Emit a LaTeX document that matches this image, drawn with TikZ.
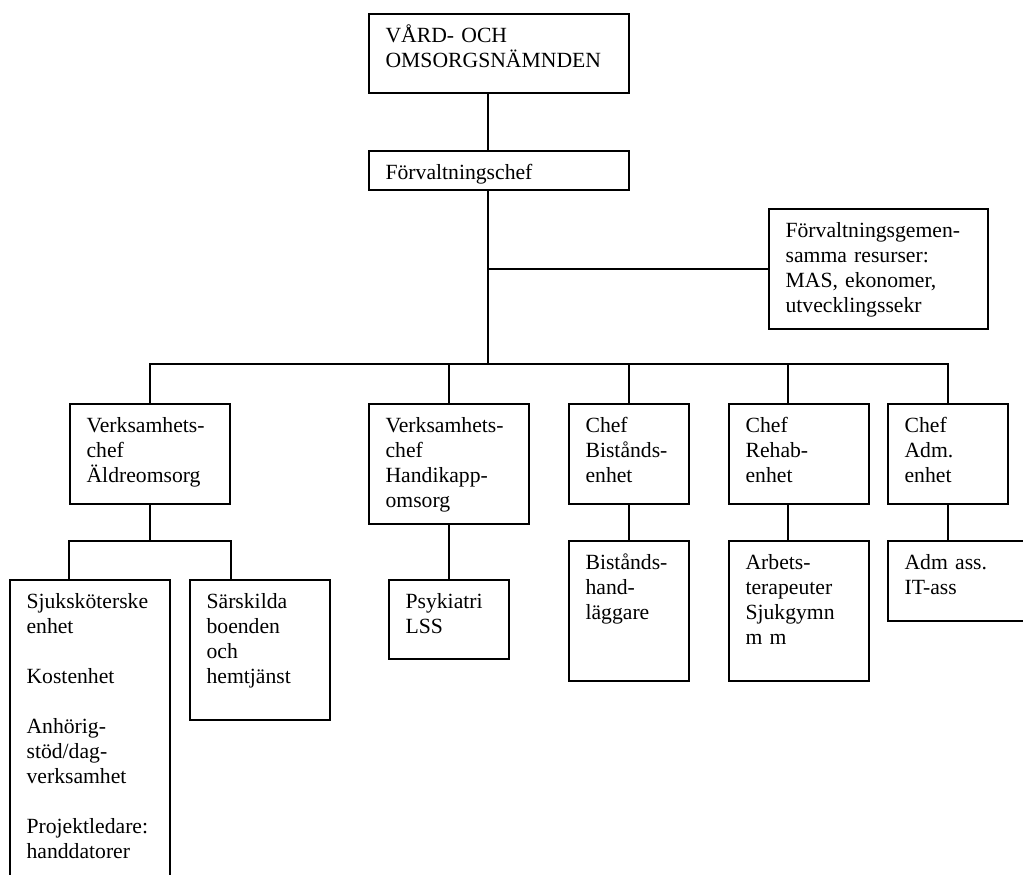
\documentclass[tikz,border=0pt]{standalone}
\usepackage{fontspec}
\setmainfont{Liberation Serif}
\newcommand{\orgfont}{\fontsize{13}{15}\selectfont}

\begin{document}
\begin{tikzpicture}[
    x=0.6pt, y=-0.6pt,
    orgbox/.style 2 args={rectangle, draw, line width=1.1pt, anchor=north west, align=left, inner xsep=10pt, inner ysep=0pt, text height=17.4pt, text width=#1, text depth=#2, font=\orgfont},
    link/.style={line width=1.1pt}
]
\clip (0,0) rectangle (1023,874);

% top of the chart
\node[orgbox={136pt}{30pt}] (board) at (368,13) {VÅRD- OCH\\OMSORGSNÄMNDEN};
\node[orgbox={136pt}{6pt}] (chief) at (368,150) {Förvaltningschef};
\node[orgbox={111.4pt}{54.6pt}] (shared) at (768,208) {Förvaltningsgemen-\\samma resurser:\\MAS, ekonomer,\\utvecklingssekr};

% second level
\node[orgbox={76pt}{42.6pt}] (aldre) at (69,403) {Verksamhets-\\chef\\Äldreomsorg};
\node[orgbox={76pt}{54.6pt}] (handi) at (368,403) {Verksamhets-\\chef\\Handikapp-\\omsorg};
\node[orgbox={52pt}{42.6pt}] (bist) at (568,403) {Chef\\Bistånds-\\enhet};
\node[orgbox={64pt}{42.6pt}] (rehab) at (728,403) {Chef\\Rehab-\\enhet};
\node[orgbox={52pt}{42.6pt}] (adm) at (887,403) {Chef\\Adm.\\enhet};

% third level
\node[orgbox={76pt}{175.2pt}] (sjuk) at (9,579) {Sjuksköterske\\enhet\\[15pt]Kostenhet\\[15pt]Anhörig-\\stöd/dag-\\verksamhet\\[15pt]Projektledare:\\handdatorer};
\node[orgbox={64pt}{66.6pt}] (sarsk) at (189,579) {Särskilda\\boenden\\och\\hemtjänst};
\node[orgbox={52pt}{30pt}] (psyk) at (388,579) {Psykiatri\\LSS};
\node[orgbox={52pt}{66.6pt}] (bisth) at (568,540) {Bistånds-\\hand-\\läggare};
\node[orgbox={64pt}{66.6pt}] (arbets) at (728,540) {Arbets-\\terapeuter\\Sjukgymn\\m m};
\node[orgbox={64pt}{30.6pt}] (admass) at (887,540) {Adm ass.\\IT-ass};

\coordinate (bus) at (488,364);
\coordinate (rehabx) at (788,0);
\coordinate (aldrejoin) at (0,541);

\draw[link] (board.south -| bus) -- (chief.north -| bus);
\draw[link] (chief.south -| bus) -- (bus);
\draw[link] (bus |- shared.west) -- (shared.west);
\draw[link] (aldre.north) |- (adm.north |- bus) -- (adm.north);
\foreach \n in {handi, bist}
    \draw[link] (\n.north |- bus) -- (\n.north);
\draw[link] (rehabx |- bus) -- (rehabx |- rehab.north);

\draw[link] (aldre.south) -- (aldre.south |- aldrejoin);
\draw[link] (aldre.west |- sjuk.north) |- (aldre.south |- aldrejoin) -| (aldre.east |- sarsk.north);
\draw[link] (handi.south) -- (psyk.north);
\draw[link] (bist.south) -- (bisth.north);
\draw[link] (rehabx |- rehab.south) -- (rehabx |- arbets.north);
\draw[link] (adm.south) -- (adm.south |- admass.north);

\end{tikzpicture}
\end{document}
